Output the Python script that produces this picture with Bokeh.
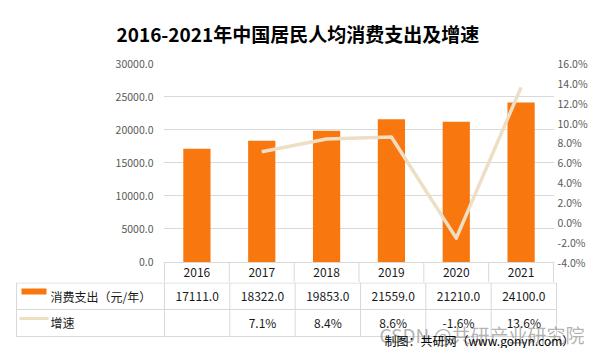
from bokeh.plotting import figure
from bokeh.models import Range1d, LinearAxis, FixedTicker, PrintfTickFormatter
from bokeh.layouts import column
from bokeh.embed import file_html
from bokeh.resources import INLINE
from bokeh.core.properties import value

# ---------------- data ----------------
years = ["2016", "2017", "2018", "2019", "2020", "2021"]
spending = [17111.0, 18322.0, 19853.0, 21559.0, 21210.0, 24100.0]
growth = [None, 7.1, 8.4, 8.6, -1.6, 13.6]
left_ticks = [0, 5000, 10000, 15000, 20000, 25000, 30000]
right_ticks = [-4, -2, 0, 2, 4, 6, 8, 10, 12, 14, 16]
title_text = "2016-2021年中国居民人均消费支出及增速"
series_names = ["消费支出（元/年）", "增速"]
source_note = "制图：共研网（www.gonyn.com）"
watermark = "CSDN @共研产业研究院"

# ---------------- style ----------------
FONT_NAME = "Noto Sans CJK SC"
FONT = value(FONT_NAME)
BAR_COLOR = "#F8780F"
LINE_COLOR = "#EEDFC4"
GRID = "#D9D9D9"
AXIS_TXT = "#595959"
TXT = "#1A1A1A"

W = 590
H = 348
PAD = 1.0
FL = 163                 # frame left (px)
COL0 = FL + PAD          # first column boundary
FR = 33
FW = W - FL - FR
COLW = (FW - 2 * PAD) / 6.0
FT = 63
A_H = 282
FH = A_H - FT
BELOW0 = 20.5            # header row below the zero line
PLOT_H = FH - BELOW0     # px from 0 to 30000
n = len(years)
xs = [i + 0.5 for i in range(n)]

# ---------------- chart figure ----------------
pA = figure(width=W, height=A_H, output_backend="svg", toolbar_location=None,
            x_range=Range1d(-PAD / COLW, n + PAD / COLW),
            y_range=Range1d(-BELOW0 * 30000 / PLOT_H, 30000),
            x_axis_location=None, min_border_left=FL, min_border_right=FR,
            min_border_top=FT, min_border_bottom=0)
pA.frame_align = False
pA.extra_y_ranges = {
    "right": Range1d(-4 - BELOW0 * 20 / PLOT_H, 16),
    "tbl": Range1d(BELOW0, -PLOT_H),
}
pA.outline_line_color = None
pA.xgrid.visible = False
pA.ygrid.ticker = FixedTicker(ticks=left_ticks)
pA.ygrid.grid_line_color = GRID
pA.ygrid.grid_line_width = 1

pA.title.text = title_text
pA.title.align = "left"
pA.title.offset = 116 - FL
pA.title.text_font = FONT_NAME
pA.title.text_font_size = "19px"
pA.title.text_font_style = "bold"
pA.title.text_color = "#000000"
pA.title.standoff = 34

ya = pA.yaxis[0]
ya.ticker = FixedTicker(ticks=left_ticks)
ya.formatter = PrintfTickFormatter(format="%.1f")
ya.major_tick_out = 0
ya.major_tick_in = 0
ya.minor_tick_out = 0
ya.minor_tick_in = 0
ya.axis_line_color = None
ya.major_label_standoff = 10
ya.major_label_text_font = FONT_NAME
ya.major_label_text_font_size = "10.5px"
ya.major_label_text_color = AXIS_TXT

yr = LinearAxis(y_range_name="right", ticker=FixedTicker(ticks=right_ticks),
                formatter=PrintfTickFormatter(format="%.1f%%"))
yr.major_tick_out = 0
yr.major_tick_in = 0
yr.minor_tick_out = 0
yr.minor_tick_in = 0
yr.axis_line_color = None
yr.major_label_standoff = 3
yr.major_label_text_font = FONT_NAME
yr.major_label_text_font_size = "10.5px"
yr.major_label_text_color = AXIS_TXT
pA.add_layout(yr, "right")

pA.vbar(x=xs, top=spending, bottom=0, width=0.42, color=BAR_COLOR, line_color=None)

gx = [xs[i] for i in range(n) if growth[i] is not None]
gy = [g for g in growth if g is not None]
pA.line(gx, gy, y_range_name="right", line_color=LINE_COLOR, line_width=3.5,
        line_join="round")

# header row of data table (years)
pA.segment(x0=list(range(n + 1)), y0=[0] * (n + 1), x1=list(range(n + 1)),
           y1=[BELOW0] * (n + 1), y_range_name="tbl", line_color=GRID, line_width=1)
pA.text(x=xs, y=[10] * n, text=years, y_range_name="tbl", text_font=FONT,
        text_font_size="12px", text_align="center", text_baseline="middle",
        text_color=TXT)

# ---------------- table figure ----------------
B_H = H - A_H


def ux(px):
    return (px - COL0) / COLW


pB = figure(width=W, height=B_H, output_backend="svg", toolbar_location=None,
            x_range=Range1d(ux(0), ux(W)),
            y_range=Range1d(B_H, 0), x_axis_location=None, y_axis_location=None,
            min_border_left=0, min_border_right=0, min_border_top=0,
            min_border_bottom=0)
pB.frame_align = False
pB.outline_line_color = None
pB.xgrid.visible = False
pB.ygrid.visible = False

left_edge = ux(16)
row_h = 27
pB.segment(x0=[left_edge] * 3, y0=[0.5, row_h, 2 * row_h], x1=[n] * 3,
           y1=[0.5, row_h, 2 * row_h], line_color=GRID, line_width=1)
vx = [left_edge] + list(range(n + 1))
pB.segment(x0=vx, y0=[0] * len(vx), x1=vx, y1=[2 * row_h] * len(vx),
           line_color=GRID, line_width=1)

# legend keys
pB.quad(left=[ux(21)], right=[ux(46)], top=[6], bottom=[12], color=BAR_COLOR,
        line_color=None)
pB.segment(x0=[ux(19)], y0=[36], x1=[ux(48)], y1=[36], line_color=LINE_COLOR,
           line_width=3)
pB.text(x=[ux(50)] * 2, y=[13.5, 40], text=series_names, text_font=FONT,
        text_font_size="12px", text_align="left", text_baseline="middle",
        text_color=TXT)

spend_txt = ["%.1f" % v for v in spending]
growth_txt = ["" if g is None else "%.1f%%" % g for g in growth]
pB.text(x=xs, y=[13.5] * n, text=spend_txt, text_font=FONT, text_font_size="12px",
        text_align="center", text_baseline="middle", text_color=TXT)
pB.text(x=xs, y=[40] * n, text=growth_txt, text_font=FONT, text_font_size="12px",
        text_align="center", text_baseline="middle", text_color=TXT)

pB.text(x=[ux(379)], y=[52], text=[watermark], text_font=FONT,
        text_font_size="19px", text_align="left", text_baseline="middle",
        text_color="#9A9A9A", text_alpha=0.75)
pB.text(x=[ux(384)], y=[57.5], text=[source_note], text_font=FONT,
        text_font_size="12px", text_align="left", text_baseline="middle",
        text_color="#000000")

layout = column(pA, pB, spacing=0)
open("out.html", "w").write(file_html(layout, INLINE))
